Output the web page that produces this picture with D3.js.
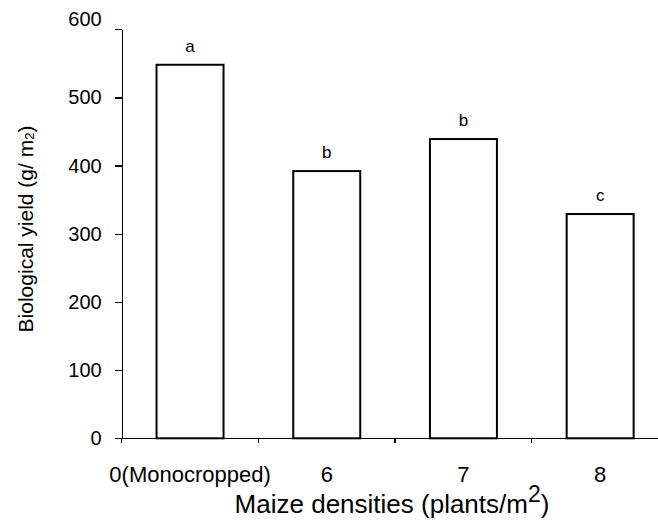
<!DOCTYPE html>
<html>
<head>
<meta charset="utf-8">
<script src="https://cdn.jsdelivr.net/npm/d3@7"></script>
<style>
  body { margin: 0; background: #fff; }
  svg { display: block; font-family: "Liberation Sans", Arial, sans-serif; }
</style>
</head>
<body>
<div id="chart"></div>
<script>
// data
var categories = ["0(Monocropped)", "6", "7", "8"];
var yieldValues = [548, 392, 439, 329];
var letters = ["a", "b", "b", "c"];
var yTicks = [0, 100, 200, 300, 400, 500, 600];

var W = 658, H = 523;
var plotLeft = 121.7, plotTop = 29.3, plotBottom = 438.3;
var step = 136.7;

var svg = d3.select("#chart").append("svg")
    .attr("width", W)
    .attr("height", H);

var x = d3.scaleBand()
    .domain(categories)
    .range([plotLeft, plotLeft + step * categories.length])
    .padding(0);

var y = d3.scaleLinear()
    .domain([0, 600])
    .range([plotBottom, plotTop]);

var barW = x.bandwidth() * 0.49;

// bars
var bars = svg.selectAll(".bar")
    .data(categories)
  .enter().append("g")
    .attr("class", "bar");

bars.append("rect")
    .attr("x", function(d) { return x(d) + x.bandwidth() / 2 - barW / 2; })
    .attr("y", function(d, i) { return y(yieldValues[i]); })
    .attr("width", barW)
    .attr("height", function(d, i) { return y(0) - y(yieldValues[i]); })
    .style("fill", "#fff")
    .style("stroke", "#000")
    .style("stroke-width", 2);

bars.append("text")
    .attr("x", function(d) { return x(d) + x.bandwidth() / 2; })
    .attr("y", function(d, i) { return y(yieldValues[i]) - 13; })
    .style("text-anchor", "middle")
    .style("font-size", "17px")
    .text(function(d, i) { return letters[i]; });

// y axis
var yAxis = svg.append("g")
    .attr("class", "axis")
    .attr("transform", "translate(" + plotLeft + ",0)")
    .call(d3.axisLeft(y).tickValues(yTicks).tickSize(7).tickPadding(13).tickSizeOuter(0));

yAxis.selectAll("text")
    .style("font-size", "20px")
    .style("font-family", "'Liberation Sans', Arial, sans-serif")
    .attr("dy", function(d) { return d === 600 ? "-0.18em" : "0.32em"; });

// x axis: labels at band centres
var xAxis = svg.append("g")
    .attr("class", "axis")
    .attr("transform", "translate(0," + plotBottom + ")")
    .call(d3.axisBottom(x).tickSize(0).tickPadding(28).tickSizeOuter(0));

xAxis.selectAll("text")
    .style("font-size", "22px")
    .style("font-family", "'Liberation Sans', Arial, sans-serif");

// boundary ticks between categories
var bounds = categories.map(function(d) { return x(d); });
svg.append("g")
    .attr("class", "axis")
    .selectAll("line")
    .data(bounds)
  .enter().append("line")
    .attr("x1", function(d) { return d; })
    .attr("x2", function(d) { return d; })
    .attr("y1", plotBottom)
    .attr("y2", plotBottom + 5);

svg.selectAll(".axis path, .axis line")
    .style("fill", "none")
    .style("stroke", "#000")
    .style("stroke-width", 1.3)
    .style("shape-rendering", "crispEdges");

// axis titles
var xt = svg.append("text")
    .attr("x", 392)
    .attr("y", 513)
    .style("text-anchor", "middle")
    .style("font-size", "26px");
xt.append("tspan").text("Maize densities (plants/m");
xt.append("tspan").attr("dy", -11).style("font-size", "23px").text("2");
xt.append("tspan").attr("dy", 11).text(")");

var yt = svg.append("text")
    .attr("transform", "translate(33,229) rotate(-90)")
    .style("text-anchor", "middle")
    .style("font-size", "21px");
yt.append("tspan").text("Biological yield (g/ m");
yt.append("tspan").attr("dy", 1).style("font-size", "13px").text("2");
yt.append("tspan").attr("dy", -1).text(")");
</script>
</body>
</html>
